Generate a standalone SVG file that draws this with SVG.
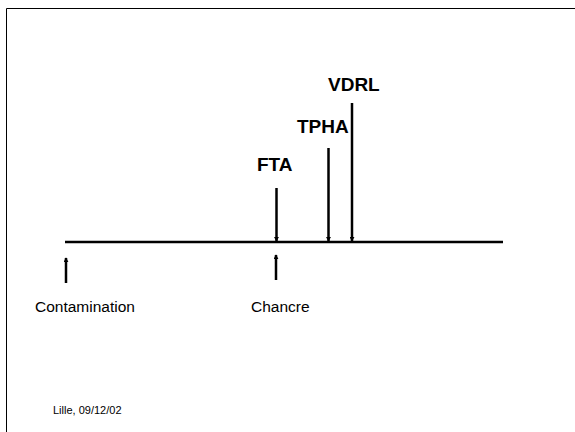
<svg xmlns="http://www.w3.org/2000/svg" width="575" height="432" viewBox="0 0 575 432">
<style>
.ln{stroke:#000;stroke-width:2.5;fill:none}
.ar{stroke:#000;stroke-width:2.5;fill:none;marker-end:url(#ah)}
.lbl{font-family:"Liberation Sans",Arial,sans-serif;font-size:15.5px;fill:#000}
.bold{font-family:"Liberation Sans",Arial,sans-serif;font-size:19px;font-weight:bold;fill:#000}
.small{font-family:"Liberation Sans",Arial,sans-serif;font-size:11px;fill:#000}
</style>
<defs>
<marker id="ah" viewBox="0 0 6 6" refX="5" refY="3" markerWidth="2" markerHeight="2" orient="auto" markerUnits="strokeWidth">
<path d="M0,0 L6,3 L0,6 Z" fill="#000"/>
</marker>
</defs>
<rect x="0" y="0" width="575" height="432" fill="#fff"/>
<path d="M6.5,440 L6.5,8.5 L580,8.5" stroke="#000" stroke-width="1" fill="none"/>
<g id="connectors">
<line class="ln" x1="65" y1="242" x2="503" y2="242" stroke-width="3"/>
<line class="ar" x1="66" y1="283" x2="66" y2="258"/>
<line class="ar" x1="276" y1="280" x2="276" y2="255"/>
<line class="ar" x1="276.5" y1="188" x2="276.5" y2="241"/>
<line class="ar" x1="328.5" y1="148" x2="328.5" y2="241"/>
<line class="ar" x1="352" y1="103" x2="352" y2="241"/>
</g>
<g id="contamination"><text class="lbl" x="35" y="311.5">Contamination</text></g>
<g id="chancre"><text class="lbl" x="251" y="311.5">Chancre</text></g>
<g id="fta"><text class="bold" x="257" y="170.5">FTA</text></g>
<g id="tpha"><text class="bold" x="297" y="132.5">TPHA</text></g>
<g id="vdrl"><text class="bold" x="328" y="91">VDRL</text></g>
<g id="date"><text class="small" x="53" y="414">Lille, 09/12/02</text></g>
</svg>
